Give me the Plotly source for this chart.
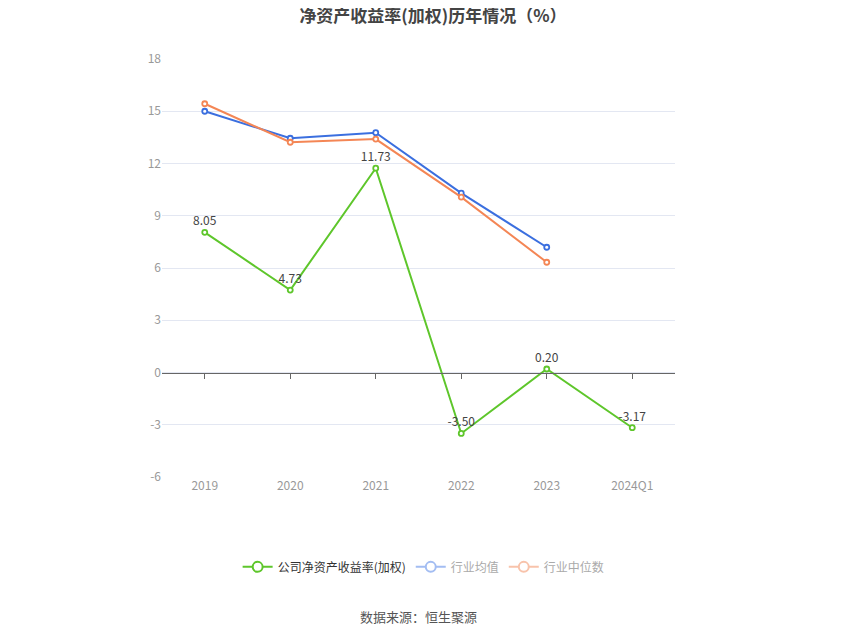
import plotly.graph_objects as go

# 数据
years = ["2019", "2020", "2021", "2022", "2023", "2024Q1"]
company_roe = [8.05, 4.73, 11.73, -3.50, 0.20, -3.17]
industry_avg = [15.0, 13.45, 13.77, 10.3, 7.19]
industry_median = [15.43, 13.22, 13.4, 10.07, 6.33]
y_ticks = [-6, -3, 0, 3, 6, 9, 12, 15, 18]

GREEN = "#5ec62b"
BLUE = "#3b6fdf"
ORANGE = "#f48655"
FONT = "Noto Sans CJK SC"


def line_trace(y, color, name, show_labels=False):
    return go.Scatter(
        x=years[:len(y)],
        y=y,
        name=name,
        mode="lines+markers+text" if show_labels else "lines+markers",
        text=[f"{v:.2f}" for v in y] if show_labels else None,
        textposition="top center",
        textfont=dict(size=12, color="#444", family=FONT),
        line=dict(color=color, width=2),
        marker=dict(symbol="circle", size=5, color="white",
                    line=dict(color=color, width=1.8)),
        showlegend=False,
        cliponaxis=False,
    )


def legend_item(color, name):
    # 仅用于图例显示
    return go.Scatter(
        x=[None], y=[None], name=name, mode="lines+markers",
        line=dict(color=color, width=2),
        marker=dict(symbol="circle", size=10, color="white",
                    line=dict(color=color, width=2)),
    )


fig = go.Figure()
fig.add_trace(line_trace(industry_avg, BLUE, "行业均值"))
fig.add_trace(line_trace(industry_median, ORANGE, "行业中位数"))
fig.add_trace(line_trace(company_roe, GREEN, "公司净资产收益率(加权)", show_labels=True))

fig.add_trace(legend_item(GREEN, "公司净资产收益率(加权)"))
fig.add_trace(legend_item("#a3bdf2", "<span style='color:#aaaaaa'>行业均值</span>"))
fig.add_trace(legend_item("#f8c3ab", "<span style='color:#aaaaaa'>行业中位数</span>"))

# 零轴上的刻度
fig.add_trace(go.Scatter(x=years, y=[0] * len(years), xaxis="x2", mode="none",
                         showlegend=False, hoverinfo="skip"))

fig.update_layout(
    width=850,
    height=637,
    paper_bgcolor="white",
    plot_bgcolor="white",
    margin=dict(l=154, r=183, t=51, b=168),
    font=dict(family=FONT, size=12, color="#333"),
    title=dict(
        text="<b>净资产收益率(加权)历年情况（%）</b>",
        x=0.5, xanchor="center", y=0.996, yanchor="top",
        font=dict(size=17, color="#444", family=FONT),
    ),
    xaxis=dict(
        type="category",
        categoryorder="array",
        categoryarray=years,
        showgrid=False,
        showline=False,
        ticks="",
        tickfont=dict(size=12, color="#999"),
        range=[-0.5, 5.5],
    ),
    xaxis2=dict(
        type="category",
        categoryorder="array",
        categoryarray=years,
        overlaying="x",
        anchor="free",
        position=0.25,
        side="bottom",
        range=[-0.5, 5.5],
        showline=True,
        linecolor="#666",
        linewidth=1,
        ticks="outside",
        ticklen=5,
        tickcolor="#666",
        showticklabels=False,
        showgrid=False,
    ),
    yaxis=dict(
        range=[-6, 18],
        tickvals=y_ticks,
        ticktext=[str(v) for v in y_ticks],
        showgrid=True,
        gridcolor="#e3e7f2",
        gridwidth=1,
        zeroline=False,
        showline=False,
        ticks="",
        ticksuffix="  ",
        tickfont=dict(size=12, color="#999"),
    ),
    legend=dict(
        orientation="h",
        x=0.51, xanchor="center",
        y=-0.215, yanchor="middle",
        font=dict(size=12, color="#333", family=FONT),
        itemwidth=30,
    ),
    annotations=[
        dict(text="数据来源：恒生聚源", xref="paper", yref="paper",
             x=0.5, y=-0.333, xanchor="center", yanchor="middle",
             showarrow=False, font=dict(size=13, color="#555", family=FONT)),
    ],
)

fig.write_html("out.html")
